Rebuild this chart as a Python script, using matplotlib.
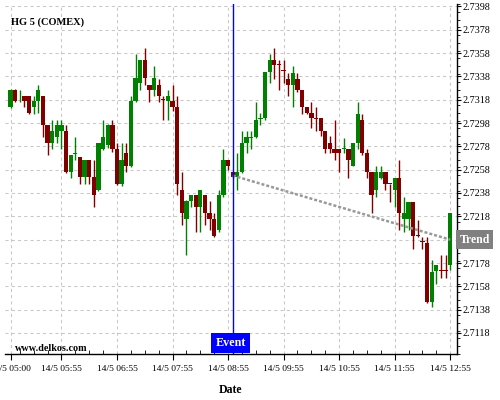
import numpy as np
import matplotlib
matplotlib.use("Agg")
import matplotlib.pyplot as plt
from matplotlib.ticker import MultipleLocator, FixedLocator, FuncFormatter
import matplotlib.transforms as mtransforms

plt.rcParams['font.family'] = ['Liberation Serif', 'DejaVu Serif']

# 5-minute bars on 14/5, from 05:00 to 12:55
opens = [2.7312, 2.7326, 2.73216, 2.7321, 2.7321, 2.7312, 2.7317, 2.7321, 2.7296, 2.7281,
         2.7286, 2.7291, 2.7291, 2.7256, 2.72712, 2.7269, 2.7252, 2.7266, 2.7252, 2.7241,
         2.7276, 2.7279, 2.7296, 2.7276, 2.7246, 2.7272, 2.7261, 2.7317, 2.7332, 2.7352,
         2.7331, 2.7326, 2.7331, 2.7318, 2.7317, 2.7317, 2.7312, 2.7241, 2.7216, 2.7231,
         2.7236, 2.7226, 2.7236, 2.7221, 2.7216, 2.7206, 2.7236, 2.7266, 2.7256, 2.7252,
         2.7256, 2.7281, 2.72855, 2.7286, 2.73015, 2.7302, 2.7342, 2.7352, 2.73485, 2.7343,
         2.7336, 2.7331, 2.7336, 2.7326, 2.7312, 2.7307, 2.7302, 2.7302, 2.7291, 2.7281,
         2.7276, 2.7276, 2.7276, 2.7276, 2.7261, 2.7281, 2.7301, 2.7272, 2.7256, 2.7241,
         2.7251, 2.7256, 2.7246, 2.7241, 2.7251, 2.7216, 2.7216, 2.7230, 2.72015, 2.71965,
         2.7195, 2.7145, 2.7171, 2.71715, 2.71715, 2.7176]
highs = [2.7327, 2.7327, 2.7326, 2.7321, 2.7321, 2.7321, 2.7331, 2.7321, 2.7296, 2.7301,
         2.7301, 2.7301, 2.7296, 2.7271, 2.7286, 2.7269, 2.7266, 2.7266, 2.7266, 2.7281,
         2.7301, 2.7297, 2.7301, 2.7281, 2.7281, 2.7281, 2.7321, 2.7357, 2.7352, 2.7362,
         2.7331, 2.7347, 2.7336, 2.7321, 2.7326, 2.7331, 2.7321, 2.7256, 2.7232, 2.7236,
         2.7236, 2.7241, 2.7236, 2.7231, 2.7221, 2.7241, 2.7276, 2.7266, 2.7256, 2.7272,
         2.7291, 2.7291, 2.7291, 2.7316, 2.7307, 2.7342, 2.7357, 2.7362, 2.7352, 2.7352,
         2.7341, 2.7347, 2.7341, 2.7326, 2.7312, 2.7316, 2.7312, 2.7302, 2.7291, 2.7287,
         2.7301, 2.7276, 2.7285, 2.7276, 2.7281, 2.7316, 2.7306, 2.7276, 2.7256, 2.7261,
         2.7261, 2.7256, 2.7246, 2.7251, 2.7266, 2.7235, 2.7230, 2.7230, 2.7215, 2.7200,
         2.7200, 2.7181, 2.7176, 2.7185, 2.7185, 2.7221]
lows = [2.7311, 2.7316, 2.7316, 2.73115, 2.7306, 2.7306, 2.7307, 2.7286, 2.7271, 2.7276,
        2.7281, 2.7276, 2.7255, 2.7251, 2.7266, 2.7246, 2.7246, 2.7246, 2.7226, 2.7240,
        2.7275, 2.7277, 2.7273, 2.7245, 2.7244, 2.7256, 2.7260, 2.7316, 2.7326, 2.7331,
        2.7316, 2.7321, 2.7316, 2.7301, 2.7301, 2.7308, 2.7236, 2.7211, 2.7185, 2.7226,
        2.7205, 2.7205, 2.7211, 2.7206, 2.7200, 2.7205, 2.7235, 2.7258, 2.7251, 2.7241,
        2.7255, 2.7272, 2.7276, 2.7285, 2.7296, 2.7301, 2.7332, 2.7336, 2.7326, 2.7332,
        2.7321, 2.7312, 2.7325, 2.7306, 2.7306, 2.7294, 2.7291, 2.7287, 2.7272, 2.7272,
        2.7266, 2.7256, 2.7272, 2.7251, 2.7261, 2.7276, 2.7271, 2.7251, 2.7221, 2.7235,
        2.7250, 2.7241, 2.7230, 2.7226, 2.7206, 2.7205, 2.7206, 2.7190, 2.7200, 2.7190,
        2.7144, 2.7140, 2.7160, 2.7165, 2.7165, 2.7172]
closes = [2.7326, 2.7317, 2.7322, 2.7317, 2.7307, 2.7317, 2.7326, 2.7296, 2.7281, 2.7291,
          2.7296, 2.7296, 2.7256, 2.7271, 2.7272, 2.7252, 2.7266, 2.7252, 2.7236, 2.7281,
          2.7286, 2.7296, 2.7276, 2.7246, 2.7266, 2.7261, 2.7317, 2.7337, 2.7352, 2.7337,
          2.7326, 2.7337, 2.7321, 2.73175, 2.7321, 2.7312, 2.7246, 2.7221, 2.7231, 2.7236,
          2.7226, 2.7241, 2.7221, 2.7216, 2.7201, 2.7236, 2.7266, 2.7261, 2.7252, 2.7256,
          2.7281, 2.7286, 2.7286, 2.7301, 2.7302, 2.7342, 2.7352, 2.7348, 2.7348, 2.73425,
          2.7331, 2.7341, 2.7326, 2.7312, 2.7307, 2.7302, 2.73015, 2.7291, 2.7276, 2.7276,
          2.7272, 2.7272, 2.72765, 2.7266, 2.7281, 2.7306, 2.7272, 2.7256, 2.7236, 2.7256,
          2.7256, 2.7246, 2.72455, 2.7251, 2.7221, 2.7221, 2.7230, 2.7201, 2.7201, 2.7196,
          2.7145, 2.7170, 2.7176, 2.7171, 2.7171, 2.7221]

tick_pos = [0, 11, 23, 35, 47, 59, 71, 83, 95]
tick_labels = ['14/5 05:00', '14/5 05:55', '14/5 06:55', '14/5 07:55', '14/5 08:55',
               '14/5 09:55', '14/5 10:55', '14/5 11:55', '14/5 12:55']
price_ticks = [2.7118 + 0.002 * k for k in range(15)]

event_idx = 48          # 14/5 09:00
trend_x = [48, 95]
trend_y = [2.7253, 2.7198]

o = np.array(opens)
h = np.array(highs)
l = np.array(lows)
c = np.array(closes)
x = np.arange(len(o))

green = '#008000'
red = '#800000'
cols = [green if cc > oo else red for oo, cc in zip(o, c)]

fig = plt.figure(figsize=(5, 4), dpi=100)
ax = fig.add_axes([0.01, 0.115, 0.9034, 0.875])

# wicks + bodies
ax.vlines(x, l, h, colors=cols, linewidth=1.0, zorder=3)
body = np.maximum(np.abs(c - o), 0.00008)
ax.bar(x, body, bottom=np.minimum(o, c), width=0.92, color=cols, linewidth=0, zorder=4)

# trend line
ax.plot(trend_x, trend_y, color='#999999', linewidth=1.8, linestyle=(0, (1.2, 0.8)), zorder=5)

# event line
ax.axvline(event_idx, color='#0000ff', linewidth=1.0, zorder=6)

ax.set_xlim(-1.2, 96.4)
ax.set_ylim(2.7100, 2.7400)

ax.xaxis.set_major_locator(FixedLocator(tick_pos))
ax.set_xticklabels(tick_labels)
ax.xaxis.set_minor_locator(FixedLocator(list(range(2, 96, 3))))

ax.yaxis.tick_right()
ax.yaxis.set_major_locator(FixedLocator(price_ticks))
ax.yaxis.set_minor_locator(MultipleLocator(0.002 / 3))


def fmt_price(v, pos):
    # the label under the Trend box is hidden in the original
    if abs(v - trend_y[-1]) < 0.0005:
        return ''
    return '%.4f' % v


ax.yaxis.set_major_formatter(FuncFormatter(fmt_price))

ax.tick_params(axis='x', which='major', direction='out', length=4, width=0.8, pad=4, labelsize=6.8)
ax.tick_params(axis='x', which='minor', direction='in', length=3, width=0.6)
ax.tick_params(axis='y', which='major', direction='out', length=3, width=0.8, pad=1, labelsize=7.3)
ax.tick_params(axis='y', which='minor', direction='out', length=2, width=0.6)

ax.grid(True, which='major', color='#c8c8c8', linestyle=(0, (3, 3)), linewidth=0.75)
ax.set_axisbelow(True)

for s in ['left', 'top']:
    ax.spines[s].set_visible(False)
for s in ['right', 'bottom']:
    ax.spines[s].set_linewidth(1.0)

ax.set_xlabel('Date', fontsize=8.5, fontweight='bold', labelpad=8)

ax.text(0.0126, 0.94, 'HG 5 (COMEX)', transform=ax.transAxes, fontsize=7.5,
        fontweight='bold', va='baseline', ha='left')
ax.text(0.022, 0.008, 'www.delkos.com', transform=ax.transAxes, fontsize=7.3,
        fontweight='bold', va='baseline', ha='left')

tr = mtransforms.blended_transform_factory(ax.transData, ax.transAxes)
ax.text(event_idx - 0.4, 0.031, 'Event', transform=tr, fontsize=8.7, fontweight='bold',
        color='white', ha='center', va='center', zorder=10,
        bbox=dict(boxstyle='square,pad=0.35', facecolor='#0000ff', edgecolor='none'))

tr2 = mtransforms.blended_transform_factory(ax.transAxes, ax.transData)
ax.text(1.04, trend_y[-1], 'Trend', transform=tr2, fontsize=8.5, fontweight='bold',
        color='white', ha='center', va='center', zorder=10, clip_on=False,
        bbox=dict(boxstyle='square,pad=0.3', facecolor='#808080', edgecolor='none'))

fig.savefig('out.png', dpi=100)
